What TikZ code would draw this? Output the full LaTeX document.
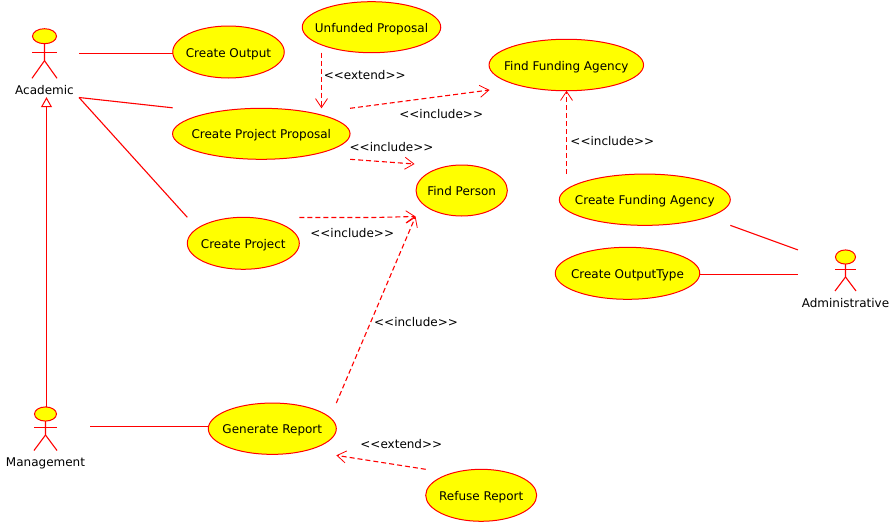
\documentclass[tikz,border=0pt]{standalone}
\usepackage{fontspec}
\setmainfont{DejaVu Sans}
\usetikzlibrary{shapes.geometric,arrows.meta}
\definecolor{umlred}{RGB}{255,0,0}
\definecolor{umlyellow}{RGB}{255,255,0}
\newcommand{\stereo}[1]{<{}<{}#1>{}>}
\newcommand{\ucase}[6]{\node[usecase,minimum width=#4pt,minimum height=#5pt] (#1) at (#2,#3) {\clap{#6}};}
% name, x, head y, limb width, head h, arm y, crotch y, feet y, label
\newcommand{\actor}[9]{%
  \node[usecase,minimum width=#4pt-1pt,minimum height=#5pt] (#1) at (#2,#3) {};
  \draw[assoc] (#1.south) -- (#2,#7) -- (#2-#4/2,#8);
  \draw[assoc] (#2,#7) -- (#2+#4/2,#8);
  \draw[assoc] (#2-#4/2,#6) -- (#2+#4/2,#6);
  \node[actorname] (#1-label) at (#2,#8+16.3) {#9};
}
\tikzset{
  usecase/.style={ellipse,draw=umlred,fill=umlyellow,line width=1pt,inner sep=0pt,outer sep=0pt,
    text=black,font=\fontsize{12}{14}\selectfont,text height=10pt,text depth=0pt},
  actorname/.style={anchor=base,inner sep=0pt,text=black,font=\fontsize{12}{14}\selectfont},
  stereotype/.style={anchor=base,inner sep=0pt,text=black,font=\fontsize{12}{14}\selectfont},
  assoc/.style={draw=umlred,line width=1.1pt},
  depend/.style={draw=umlred,line width=1.1pt,dash pattern=on 5pt off 3pt,
    -{Straight Barb[length=9pt,width=12pt,line width=.8pt]}},
  general/.style={draw=umlred,line width=1.1pt,-{Triangle[open,length=10pt,width=11pt,fill=white,line width=1pt]}},
}
\begin{document}
\begin{tikzpicture}[x=1pt,y=-1pt]
\useasboundingbox (0,0) rectangle (896,522);
\ucase{output}{228.5}{52}{111.5}{52}{Create Output}
\ucase{unfunded}{371.5}{27.2}{138.5}{51}{Unfunded Proposal}
\ucase{funding}{566.3}{65}{154.5}{51.5}{Find Funding Agency}
\ucase{proposal}{261.3}{133.8}{177.5}{51}{Create Project Proposal}
\ucase{person}{461.7}{190.5}{91.3}{51}{Find Person}
\ucase{cfa}{644.8}{199.7}{171}{51.3}{Create Funding Agency}
\ucase{project}{243.3}{243.3}{112}{52}{Create Project}
\ucase{outtype}{627.5}{273.3}{144.5}{52}{Create OutputType}
\ucase{report}{272.3}{428.7}{128}{51.3}{Generate Report}
\ucase{refuse}{481.2}{495.3}{111}{52}{Refuse Report}
\actor{academic}{44.5}{36.2}{25}{15}{52.5}{60.7}{78.3}{Academic}
\actor{management}{45.5}{414}{23}{13}{427.5}{435}{450.5}{Management}
\actor{admin}{845.5}{257}{21}{13}{269.5}{277}{291}{Administrative}
% associations
\draw[assoc] ([xshift=34.5pt,yshift=-17.3pt]academic.center) -- ([yshift=-1.5pt]output.west);
\draw[assoc] ([xshift=34.5pt,yshift=-61.3pt]academic.center) -- ([yshift=.5pt]proposal.north -| proposal.west);
\draw[assoc] ([xshift=34.5pt,yshift=-61.3pt]academic.center) -- (project.north -| project.west);
\draw[assoc] ([xshift=44.5pt,yshift=-12.5pt]management.center) -- ([yshift=2.2pt]report.west);
\draw[assoc] (cfa.south -| cfa.east) -- ([xshift=-47.5pt]admin.north);
\draw[assoc] ([yshift=-1.2pt]outtype.east) -- ([xshift=-47.5pt,yshift=-1.2pt]admin.north |- outtype.east);
% generalisation
\draw[general] ([xshift=1pt]management.north) -- ([xshift=2pt,yshift=-61pt]academic.center);
% dependencies
\draw[depend] ([xshift=-50pt]unfunded.south) -- ([xshift=60.2pt]proposal.north);
\draw[depend] (proposal.north -| proposal.east) -- ([xshift=.5pt,yshift=-25pt]funding.west);
\draw[depend] (proposal.south -| proposal.east) -- ([xshift=-1.5pt,yshift=1pt]person.north -| person.west);
\draw[depend] ([yshift=-.2pt]project.north -| project.east) -- ++(74,0) -- ([xshift=-.5pt,yshift=-.5pt]person.south -| person.west);
\draw[depend] (report.north -| report.east) -- ([xshift=-.5pt,yshift=-.5pt]person.south -| person.west);
\draw[depend] (refuse.north -| refuse.west) -- ([yshift=-1pt]report.south -| report.east);
\draw[depend] ([xshift=-78.3pt]cfa.north) -- ([xshift=.2pt]funding.south);
% stereotype labels
\node[stereotype] (l1) at (364.7,79) {\stereo{extend}};
\node[stereotype] (l2) at (441.2,118) {\stereo{include}};
\node[stereotype] (l3) at (391.5,151) {\stereo{include}};
\node[stereotype] (l4) at (352.2,237) {\stereo{include}};
\node[stereotype] (l5) at (612.3,145) {\stereo{include}};
\node[stereotype] (l6) at (416,326) {\stereo{include}};
\node[stereotype] (l7) at (401.3,448) {\stereo{extend}};
\end{tikzpicture}
\end{document}
